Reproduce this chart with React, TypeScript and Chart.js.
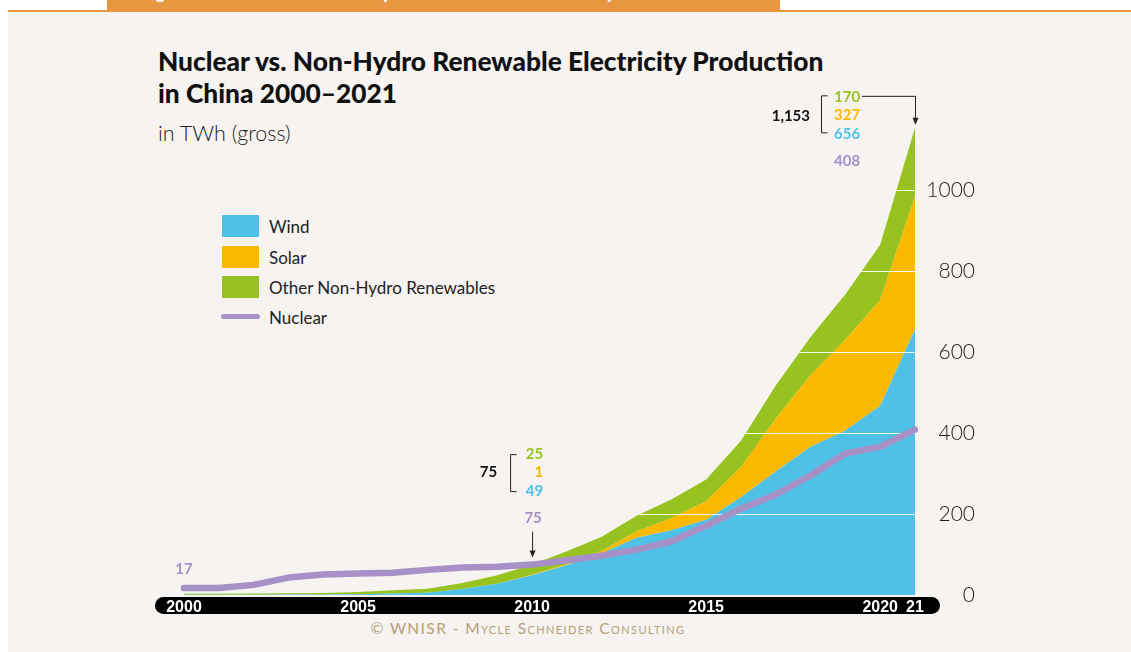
import React, { useEffect, useRef } from 'react';
import { Chart, registerables } from 'chart.js';

Chart.register(...registerables);

const years = ['2000', '2001', '2002', '2003', '2004', '2005', '2006', '2007', '2008', '2009', '2010',
  '2011', '2012', '2013', '2014', '2015', '2016', '2017', '2018', '2019', '2020', '2021'];
const wind = [0.6, 0.7, 0.9, 1.3, 1.3, 2.0, 3.7, 5.6, 14.8, 27.6, 49, 74, 103, 141, 160, 186, 241, 305, 366, 406, 467, 656];
const solar = [0, 0, 0, 0, 0, 0.1, 0.1, 0.1, 0.2, 0.3, 1, 2.6, 6.4, 15.5, 29.2, 45.2, 75, 130, 177, 224, 261, 327];
const other = [2.4, 2.5, 2.7, 3.0, 3.4, 5.3, 8.1, 10.0, 14.5, 20.6, 25, 31.5, 34.2, 39.4, 46.2, 54.1, 64.7, 81.8, 93.6, 112.5, 136.6, 170];
const nuclear = [17, 17.5, 25, 43, 50.5, 53, 55, 62, 68, 70, 75, 86, 97, 112, 132, 171, 213, 248, 295, 349, 366, 408];
const xTickYears = ['2000', '2005', '2010', '2015', '2020', '2021'];
const yTickValues = [0, 200, 400, 600, 800, 1000];

const C_WIND = '#4fc1e6';
const C_SOLAR = '#fbb900';
const C_OTHER = '#98c21f';
const C_NUC = '#a690c7';

const FONT = 'Lato, "Noto Sans", sans-serif';

export default function App() {
  const ref = useRef<HTMLCanvasElement | null>(null);

  useEffect(() => {
    document.body.style.margin = '0';
    const canvas = ref.current;
    if (!canvas) return;

    const barPlugin = {
      id: 'axisBar',
      beforeDraw(chart: any) {
        const { ctx, chartArea } = chart;
        const l = chartArea.left - 29, r = chartArea.right + 25;
        const t = chartArea.bottom + 2, h = 17;
        ctx.save();
        ctx.fillStyle = '#000';
        ctx.beginPath();
        (ctx as any).roundRect(l, t, r - l, h, h / 2);
        ctx.fill();
        ctx.restore();
      },
    };

    const gridPlugin = {
      id: 'clipGrid',
      beforeDatasetDraw(chart: any, args: any) {
        if (args.index !== 0) return;
        const { ctx, chartArea } = chart;
        const top = chart.getDatasetMeta(3).data;
        const yScale = chart.scales.y;
        ctx.save();
        ctx.beginPath();
        top.forEach((p: any, i: number) => (i === 0 ? ctx.moveTo(p.x, p.y) : ctx.lineTo(p.x, p.y)));
        ctx.lineTo(chartArea.right, chartArea.bottom);
        ctx.lineTo(chartArea.left, chartArea.bottom);
        ctx.closePath();
        ctx.clip();
        ctx.strokeStyle = 'rgba(255,255,255,0.9)';
        ctx.lineWidth = 1.2;
        yTickValues.filter(v => v > 0).forEach(v => {
          const y = Math.round(yScale.getPixelForValue(v)) + 0.5;
          ctx.beginPath();
          ctx.moveTo(chartArea.left, y);
          ctx.lineTo(chartArea.right, y);
          ctx.stroke();
        });
        ctx.restore();
      },
    };

    const annotPlugin = {
      id: 'annot',
      afterDatasetsDraw(chart: any) {
        const { ctx } = chart;
        const xs = chart.scales.x, ys = chart.scales.y;
        const last = years.length - 1;
        const i10 = years.indexOf('2010');
        ctx.save();
        ctx.font = `bold 15px ${FONT}`;
        ctx.textBaseline = 'middle';

        const arrowHead = (x: number, y: number) => {
          ctx.beginPath();
          ctx.moveTo(x, y);
          ctx.lineTo(x - 3, y - 7);
          ctx.lineTo(x + 3, y - 7);
          ctx.closePath();
          ctx.fill();
        };
        const bracket = (x: number, y1: number, y2: number) => {
          ctx.beginPath();
          ctx.moveTo(x + 6, y1);
          ctx.lineTo(x, y1);
          ctx.lineTo(x, y2);
          ctx.lineTo(x + 6, y2);
          ctx.stroke();
        };

        // 2021
        const x21 = xs.getPixelForValue(last);
        const total21 = wind[last] + solar[last] + other[last];
        const yt = ys.getPixelForValue(total21);
        ctx.textAlign = 'left';
        ctx.fillStyle = C_OTHER; ctx.fillText(String(other[last]), x21 - 81, yt - 31);
        ctx.fillStyle = C_SOLAR; ctx.fillText(String(solar[last]), x21 - 81, yt - 13);
        ctx.fillStyle = C_WIND; ctx.fillText(String(wind[last]), x21 - 81, yt + 6);
        ctx.fillStyle = C_NUC; ctx.fillText(String(nuclear[last]), x21 - 81, yt + 33);
        ctx.fillStyle = '#111'; ctx.textAlign = 'right';
        ctx.fillText(Math.round(total21).toLocaleString('en-US'), x21 - 105, yt - 12);
        ctx.strokeStyle = '#222'; ctx.lineWidth = 1;
        bracket(x21 - 93.5, yt - 32, yt + 5);
        ctx.beginPath();
        ctx.moveTo(x21 - 53, yt - 31.5);
        ctx.lineTo(x21 + 0.5, yt - 31.5);
        ctx.lineTo(x21 + 0.5, yt - 6);
        ctx.stroke();
        ctx.fillStyle = '#222';
        arrowHead(x21 + 0.5, yt - 3);

        // 2010
        const x10 = xs.getPixelForValue(i10);
        const yn = ys.getPixelForValue(nuclear[i10]);
        ctx.textAlign = 'right';
        ctx.fillStyle = C_OTHER; ctx.fillText(String(other[i10]), x10 + 11, yn - 110);
        ctx.fillStyle = C_SOLAR; ctx.fillText(String(solar[i10]), x10 + 11, yn - 92);
        ctx.fillStyle = C_WIND; ctx.fillText(String(wind[i10]), x10 + 11, yn - 73);
        ctx.fillStyle = '#111';
        ctx.fillText(String(Math.round(wind[i10] + solar[i10] + other[i10])), x10 - 35, yn - 92);
        bracket(x10 - 21.5, yn - 110, yn - 73);
        ctx.textAlign = 'center';
        ctx.fillStyle = C_NUC; ctx.fillText(String(nuclear[i10]), x10 + 1, yn - 46);
        ctx.beginPath();
        ctx.moveTo(x10 + 0.5, yn - 33);
        ctx.lineTo(x10 + 0.5, yn - 12);
        ctx.stroke();
        ctx.fillStyle = '#222';
        arrowHead(x10 + 0.5, yn - 7);

        // 2000
        const x0 = xs.getPixelForValue(0);
        const y0 = ys.getPixelForValue(nuclear[0]);
        ctx.textAlign = 'center';
        ctx.fillStyle = C_NUC; ctx.fillText(String(nuclear[0]), x0, y0 - 19);
        ctx.restore();
      },
    };

    const chart = new Chart(canvas, {
      type: 'line',
      data: {
        labels: years,
        datasets: [
          {
            label: 'Nuclear', data: nuclear, stack: 'nuc', borderColor: C_NUC, borderWidth: 6.5,
            pointRadius: 0, fill: false, tension: 0, borderCapStyle: 'round', borderJoinStyle: 'round',
          },
          {
            label: 'Wind', data: wind, stack: 'ren', borderWidth: 0, backgroundColor: C_WIND,
            borderColor: C_WIND, pointRadius: 0, fill: 'origin', tension: 0,
          },
          {
            label: 'Solar', data: solar, stack: 'ren', borderWidth: 0, backgroundColor: C_SOLAR,
            borderColor: C_SOLAR, pointRadius: 0, fill: '-1', tension: 0,
          },
          {
            label: 'Other Non-Hydro Renewables', data: other, stack: 'ren', borderWidth: 0,
            backgroundColor: C_OTHER, borderColor: C_OTHER, pointRadius: 0, fill: '-1', tension: 0,
          },
        ],
      } as any,
      options: {
        animation: false,
        responsive: false,
        maintainAspectRatio: false,
        layout: { padding: { left: 184, right: 156, top: 125, bottom: 37 } },
        plugins: { legend: { display: false }, tooltip: { enabled: false }, title: { display: false } },
        scales: {
          x: {
            offset: false,
            grid: { display: false, drawTicks: false },
            border: { display: false },
            afterFit: (s: any) => { s.height = 20; },
            ticks: {
              autoSkip: false, maxRotation: 0, padding: 3, color: '#fff',
              font: { family: '"Liberation Sans Narrow", "Arial Narrow", sans-serif', size: 16, weight: 'bold' },
              callback: (_v: any, i: number) => {
                const y = years[i];
                if (!xTickYears.includes(y)) return '';
                return y === '2021' ? '21' : y;
              },
            },
          },
          y: {
            position: 'right',
            stacked: true,
            min: 0,
            max: 1160,
            grid: { display: false, drawTicks: false },
            border: { display: false },
            afterFit: (s: any) => { s.width = 60; },
            afterBuildTicks: (s: any) => { s.ticks = yTickValues.map(v => ({ value: v })); },
            ticks: {
              crossAlign: 'far', padding: 12, color: '#222',
              font: { family: FONT, size: 21, weight: '300' },
              callback: (v: any) => String(v),
            },
          },
        },
      } as any,
      plugins: [barPlugin, gridPlugin, annotPlugin],
    });
    return () => chart.destroy();
  }, []);

  const legendItems = [
    { label: 'Wind', color: C_WIND, top: 215 },
    { label: 'Solar', color: C_SOLAR, top: 246 },
    { label: 'Other Non-Hydro Renewables', color: C_OTHER, top: 276 },
  ];

  return (
    <div style={{ position: 'relative', width: 1131, height: 652, background: '#fff', overflow: 'hidden', fontFamily: FONT }}>
      <div style={{ position: 'absolute', left: 8, top: 10, right: 0, bottom: 0, background: '#f6f3f1' }} />
      <div style={{ position: 'absolute', left: 8, top: 10, right: 0, height: 1.5, background: '#e8963f' }} />
      <div style={{ position: 'absolute', left: 107, top: 0, width: 673, height: 11, background: '#e8963f', overflow: 'hidden' }}>
        <div style={{ position: 'absolute', left: 33, top: -23, color: '#fff', fontStyle: 'italic', fontWeight: 700, fontSize: 21, whiteSpace: 'nowrap' }}>
          Figure 9: Nuclear vs. Non-Hydro Renewable Electricity Production in China, 2000–2021
        </div>
      </div>
      <div style={{ position: 'absolute', left: 158, top: 45, fontWeight: 900, fontSize: 26.3, lineHeight: '32px', color: '#111' }}>
        Nuclear vs. Non-Hydro Renewable Electricity Production<br />in China 2000–2021
      </div>
      <div style={{ position: 'absolute', left: 158, top: 120, fontWeight: 300, fontSize: 21.5, color: '#222' }}>
        in TWh (gross)
      </div>
      {legendItems.map(it => (
        <div key={it.label}>
          <div style={{ position: 'absolute', left: 222, top: it.top, width: 37, height: 22, background: it.color }} />
          <div style={{ position: 'absolute', left: 269, top: it.top + 1, height: 22, lineHeight: '22px', fontSize: 17, color: '#222' }}>{it.label}</div>
        </div>
      ))}
      <div style={{ position: 'absolute', left: 221, top: 314, width: 39, height: 5, borderRadius: 3, background: C_NUC }} />
      <div style={{ position: 'absolute', left: 269, top: 307, height: 22, lineHeight: '22px', fontSize: 17, color: '#222' }}>Nuclear</div>
      <div style={{ position: 'absolute', left: 0, width: 1056, top: 619, textAlign: 'center', fontVariant: 'small-caps', fontSize: 15.5, letterSpacing: 1.4, color: '#b59f78' }}>
        © WNISR - Mycle Schneider Consulting
      </div>
      <canvas ref={ref} width={1131} height={652} style={{ position: 'absolute', left: 0, top: 0, width: 1131, height: 652 }} />
    </div>
  );
}
